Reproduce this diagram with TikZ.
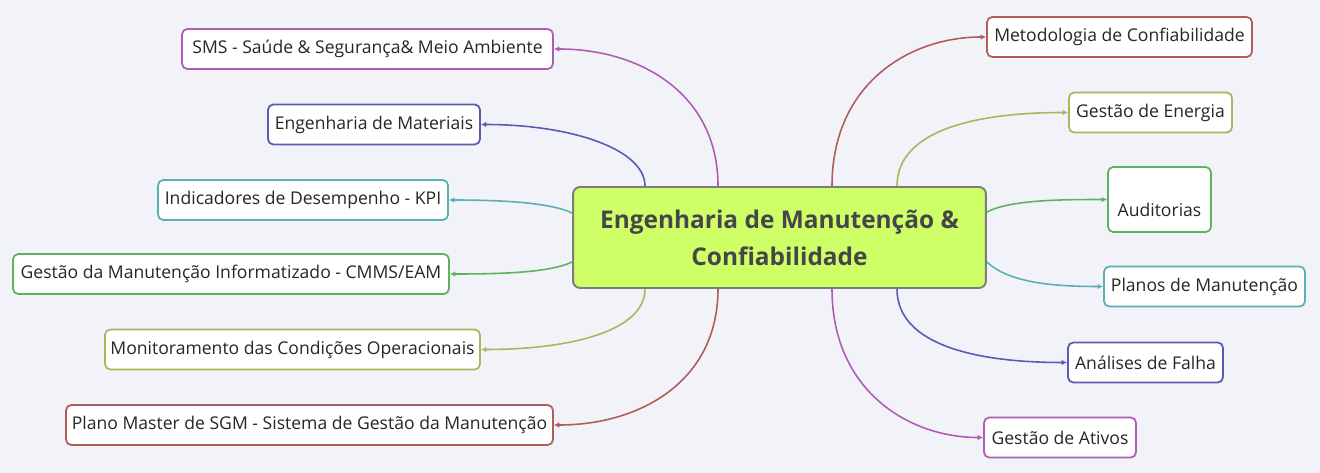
\documentclass[tikz,border=0pt]{standalone}
\usepackage{fontspec}
\setmainfont{Open Sans}
\definecolor{mapbg}{RGB}{242, 243, 249}
\definecolor{corelime}{RGB}{206, 255, 102}
\definecolor{coregrey}{RGB}{125, 125, 125}
\definecolor{textgrey}{RGB}{70, 70, 74}
\definecolor{mindpurple}{RGB}{176, 92, 182}
\definecolor{mindblue}{RGB}{90, 90, 178}
\definecolor{mindteal}{RGB}{90, 176, 178}
\definecolor{mindgreen}{RGB}{94, 178, 94}
\definecolor{mindolive}{RGB}{178, 178, 94}
\definecolor{mindred}{RGB}{178, 92, 92}
\usetikzlibrary{
    arrows.meta,
    positioning,
    calc
}

\begin{document}
\begin{tikzpicture}[x=0.02cm, y=-0.02cm,
            core/.style={draw=coregrey, fill=corelime, rounded corners=4pt, line width=1.1pt,
                minimum width=8.26cm, minimum height=2.02cm, align=center,
                text=textgrey, font=\fontsize{13.9pt}{21pt}\selectfont\bfseries},
            topic/.style={draw=#1, fill=white, rounded corners=3pt, line width=1pt,
                minimum height=0.8cm, inner sep=0pt, text=black!85,
                font=\fontsize{10pt}{12pt}\selectfont},
            branch/.style={draw=#1, line width=0.9pt, -{Latex[length=3.2pt, width=3.2pt]}}]

            % Background
            \fill[mapbg] (0,0) rectangle (1320,473);

            % Central topic
            \node[core] (core) at (779.5,237.5) {Engenharia de Manutenção \&\\Confiabilidade};

            % Left topics
            \node[topic=mindpurple, minimum width=7.42cm] (sms) at (367.5,49) {SMS - Saúde \& Segurança\& Meio Ambiente};
            \node[topic=mindblue, minimum width=4.24cm] (materiais) at (374,124.5) {Engenharia de Materiais};
            \node[topic=mindteal, minimum width=5.8cm] (kpi) at (303,200) {Indicadores de Desempenho - KPI};
            \node[topic=mindgreen, minimum width=8.72cm] (cmms) at (231,274) {Gestão da Manutenção Informatizado - CMMS/EAM};
            \node[topic=mindolive, minimum width=7.5cm] (monit) at (292.5,349.5) {Monitoramento das Condições Operacionais};
            \node[topic=mindred, minimum width=9.74cm] (master) at (309.5,425) {Plano Master de SGM - Sistema de Gestão da Manutenção};

            % Right topics
            \node[topic=mindred, minimum width=5.3cm] (metodo) at (1119.5,37) {Metodologia de Confiabilidade};
            \node[topic=mindolive, minimum width=3.26cm] (energia) at (1150.5,112.5) {Gestão de Energia};
            \node[topic=mindgreen, minimum width=2.06cm, minimum height=1.3cm,
                text height=0.75cm, text depth=0.05cm] (audit) at (1159.5,199.5) {Auditorias};
            \node[topic=mindteal, minimum width=4.02cm] (planos) at (1204.5,286.5) {Planos de Manutenção};
            \node[topic=mindblue, minimum width=3.1cm] (falha) at (1145.5,362.5) {Análises de Falha};
            \node[topic=mindpurple, minimum width=3.04cm] (ativos) at (1060,437.5) {Gestão de Ativos};

            % Branches to the left
            \draw[branch=mindpurple] ($(core.north)+(-61.5,0)$) .. controls +(0,-92) and +(87,0) .. (sms.east);
            \draw[branch=mindblue] ($(core.north)+(-134.5,0)$) .. controls +(0,-37) and +(90,0) .. (materiais.east);
            \draw[branch=mindteal] ($(core.west)+(0,-24.5)$) .. controls +(-23,-11) and +(48,0) .. (kpi.east);
            \draw[branch=mindgreen] ($(core.west)+(0,24.5)$) .. controls +(-23,11) and +(48,0) .. (cmms.east);
            \draw[branch=mindolive] ($(core.south)+(-134.5,0)$) .. controls +(0,42) and +(90,0) .. (monit.east);
            \draw[branch=mindred] ($(core.south)+(-61.5,0)$) .. controls +(0,92) and +(87,0) .. (master.east);

            % Branches to the right
            \draw[branch=mindred] ($(core.north)+(52.5,0)$) .. controls +(0,-102) and +(-77,0) .. (metodo.west);
            \draw[branch=mindolive] ($(core.north)+(117.5,0)$) .. controls +(0,-57) and +(-89,0) .. (energia.west);
            \draw[branch=mindgreen] ($(core.east)+(0,-25.5)$) .. controls +(23,-12) and +(-48,0) .. (audit.west);
            \draw[branch=mindteal] ($(core.east)+(0,24.5)$) .. controls +(23,22) and +(-44,0) .. (planos.west);
            \draw[branch=mindblue] ($(core.south)+(117.5,0)$) .. controls +(0,57) and +(-88,0) .. (falha.west);
            \draw[branch=mindpurple] ($(core.south)+(52.5,0)$) .. controls +(0,102) and +(-74,0) .. (ativos.west);
        \end{tikzpicture}
\end{document}
